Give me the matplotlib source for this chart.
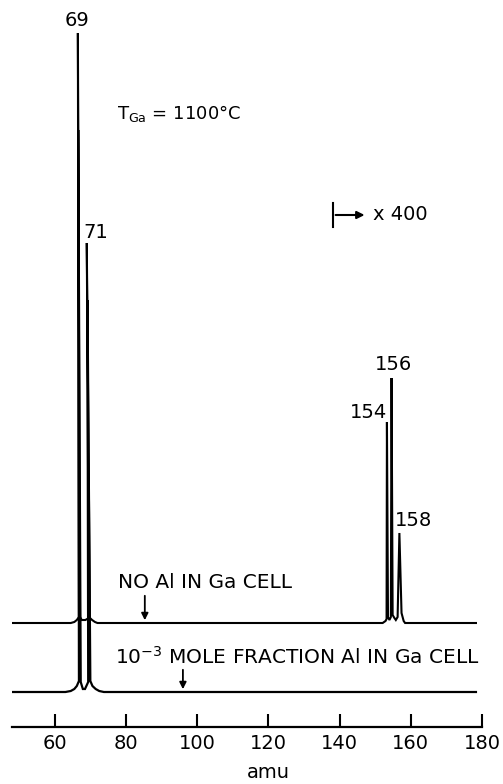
"""
Mass spectrum of the Ga beam, two traces (no Al / 1e-3 Al in Ga cell).
"""

import matplotlib
matplotlib.use("Agg")
import matplotlib.pyplot as plt
import matplotlib.transforms as mtransforms

# ---- data (x in amu, y = pen deflection above baseline) ----
top_x = [48.1, 64.5, 65.5, 66.2, 66.8, 66.5, 67.1, 67.6, 68.6, 69.6, 69.0, 69.9, 70.5, 71.3, 72.0,
         152.1, 152.9, 153.2, 153.3, 153.6, 154.0, 154.4, 154.6, 154.9, 155.4, 155.8, 156.3,
         156.8, 157.4, 158.0, 158.4, 178.3]
top_y = [0, 0, 1, 3, 6, 590, 6, 3, 3, 5, 380, 5, 3, 1, 0,
         0, 2, 4, 201, 6, 3, 6, 245, 8, 5, 3, 6,
         90, 10, 2, 0, 0]

bot_x = [48.1, 63.0, 64.5, 65.5, 66.2, 66.8, 66.6, 67.3, 67.9, 68.5, 69.4, 69.2, 70.0, 70.6,
         71.5, 72.5, 73.8, 178.3]
bot_y = [0, 0, 1, 3, 6, 11, 562, 10, 3, 3, 10, 392, 11, 6,
         3, 1, 0, 0]

peak_labels = ["69", "71", "154", "156", "158"]
label_x = [66.2, 71.4, 148.0, 155.2, 160.8]

ticks = [60, 80, 100, 120, 140, 160, 180]

# baselines of the two traces (in pixel-like units above the axis)
BASE_TOP = 104
BASE_BOT = 35


def main():
    plt.rcParams["font.family"] = ["DejaVu Sans"]
    fig = plt.figure(figsize=(5.03, 7.84), dpi=100)
    ax = fig.add_axes([12 / 503, 57 / 784, 470 / 503, 727 / 784])
    ax.set_xlim(48, 180)
    ax.set_ylim(0, 727)

    ax.plot(top_x, [BASE_TOP + v for v in top_y], color="black", lw=1.5,
            solid_joinstyle="miter")
    ax.plot(bot_x, [BASE_BOT + v for v in bot_y], color="black", lw=1.6,
            solid_joinstyle="miter")

    # peak labels
    label_y = [706, 495, 315, 363, 207]
    for txt, x, y in zip(peak_labels, label_x, label_y):
        ax.text(x, y, txt, ha="center", va="center", fontsize=14)

    ax.text(77.4, 614, r"T$_{\mathregular{Ga}}$ = 1100°C", ha="left", va="center",
            fontsize=13)

    # x400 gain marker
    ax.plot([138.1, 138.1], [500, 524], color="black", lw=1.5)
    ax.annotate("", xy=(147.8, 512), xytext=(138.1, 512),
                arrowprops=dict(arrowstyle="-|>", color="black", lw=1.5,
                                mutation_scale=11))
    ax.text(149.3, 512, "x 400", ha="left", va="center", fontsize=14)

    # trace annotations
    ax.text(77.7, 144, "NO Al IN Ga CELL", ha="left", va="center", fontsize=14.5)
    ax.annotate("", xy=(85.3, BASE_TOP), xytext=(85.3, 134),
                arrowprops=dict(arrowstyle="-|>", color="black", lw=1.3,
                                mutation_scale=10))
    ax.text(76.9, 70, r"10$^{\mathregular{-3}}$ MOLE FRACTION Al IN Ga CELL",
            ha="left", va="center", fontsize=14.5)
    ax.annotate("", xy=(96.0, BASE_BOT), xytext=(96.0, 60),
                arrowprops=dict(arrowstyle="-|>", color="black", lw=1.3,
                                mutation_scale=10))

    # axis styling
    for side in ["left", "right", "top"]:
        ax.spines[side].set_visible(False)
    ax.spines["bottom"].set_linewidth(1.6)
    ax.set_yticks([])
    ax.set_xticks(ticks)
    ax.tick_params(axis="x", direction="in", length=9.5, width=1.5,
                   labelsize=14, pad=5)

    trans = mtransforms.blended_transform_factory(ax.transData, fig.transFigure)
    ax.text(120, 11 / 784, "amu", transform=trans, ha="center", va="center",
            fontsize=14)

    fig.savefig("out.png", dpi=100)


if __name__ == "__main__":
    main()
